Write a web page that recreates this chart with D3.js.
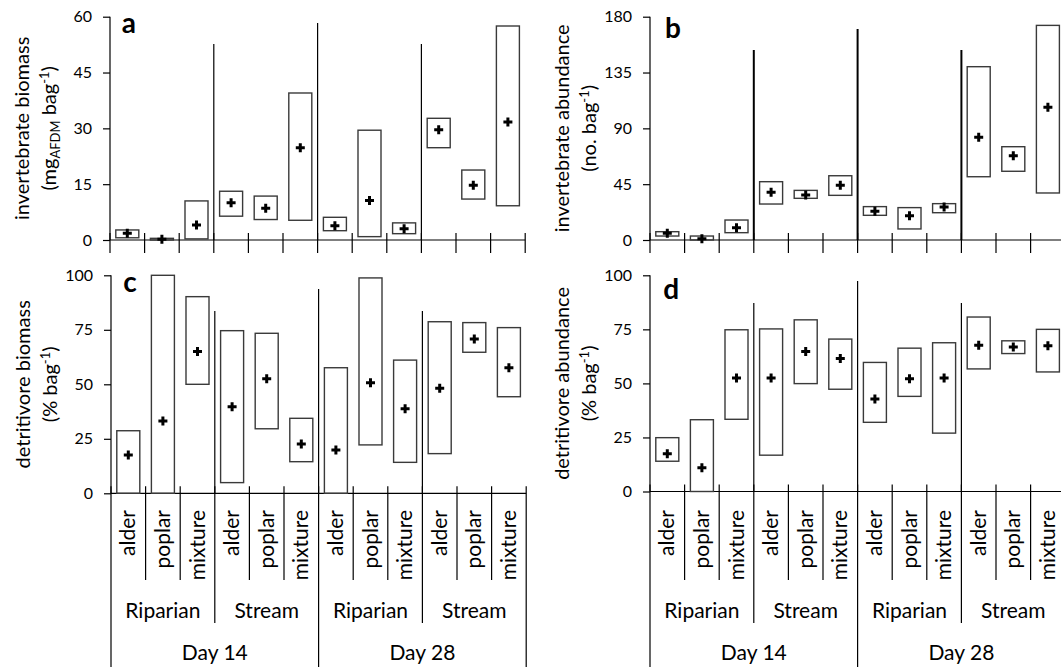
<!DOCTYPE html>
<html lang="en">
<head>
<meta charset="UTF-8"/>
<title>Leaf bag invertebrates</title>
<script src="https://d3js.org/d3.v7.min.js"></script>
<style>
  body { margin: 0; background: #fff; }
  svg { display: block; font-family: Lato, "Open Sans", sans-serif; }
</style>
</head>
<body>
<svg id="chart"></svg>
<script>
// treatments are plotted day > site > leaf type
var leaves = ["alder", "poplar", "mixture"];
var sites = ["Riparian", "Stream"];
var days = ["Day 14", "Day 28"];

// a: invertebrate biomass (mg AFDM per bag)
var biomassLow  = [0.6, 0, 0.3, 6.4, 5.5, 5.3, 2.5, 0.9, 1.7, 24.8, 11.0, 9.2];
var biomassHigh = [2.7, 0.45, 10.5, 13.1, 11.8, 39.5, 6.1, 29.5, 4.6, 32.7, 18.8, 57.5];
var biomassMean = [1.8, 0.2, 4.0, 10.0, 8.5, 24.8, 3.8, 10.6, 3.0, 29.6, 14.7, 31.7];
var biomassTicks = [0, 15, 30, 45, 60];

// b: invertebrate abundance (no. per bag)
var abundLow  = [3.2, 0, 5.9, 29, 33.6, 36.0, 19.9, 8.9, 22.0, 51.0, 55.4, 37.9];
var abundHigh = [6.7, 3.2, 16.1, 47, 40, 51.8, 26.9, 26.1, 29.3, 139.7, 75.2, 173];
var abundMean = [5.4, 1.1, 9.9, 38.4, 36.3, 44.1, 23.1, 19.6, 26.6, 82.8, 67.9, 107];
var abundTicks = [0, 45, 90, 135, 180];

// c: detritivore biomass (% per bag)
var detBiomassLow  = [0, 0, 50.0, 4.9, 29.6, 14.5, 0, 22.2, 14.2, 18.2, 64.7, 44.3];
var detBiomassHigh = [28.7, 100, 90.2, 74.6, 73.4, 34.4, 57.6, 98.8, 61.1, 78.7, 78.3, 76.0];
var detBiomassMean = [17.6, 33.2, 65.0, 39.7, 52.6, 22.6, 19.9, 50.7, 38.8, 48.2, 70.8, 57.6];

// d: detritivore abundance (% per bag)
var detAbundLow  = [14.0, 0, 33.4, 16.8, 49.9, 47.3, 32.0, 44.0, 27.0, 56.7, 63.8, 55.3];
var detAbundHigh = [24.9, 33.2, 74.8, 75.2, 79.4, 70.5, 59.7, 66.3, 68.8, 80.7, 69.7, 75.0];
var detAbundMean = [17.5, 11.0, 52.5, 52.5, 64.8, 61.5, 42.8, 52.1, 52.5, 67.7, 66.8, 67.4];
var percentTicks = [0, 25, 50, 75, 100];

var treatments = d3.cross(days, sites, leaves);

var width = 1061, height = 667;
var svg = d3.select("#chart").attr("width", width).attr("height", height);

var catWidth = 34.6;

var panels = [
  { name: "a", x0: 110, top: 16.7, base: 240, divTop: [44, 23], lab: [121.7, 33.3], divW: 1.2,
    low: biomassLow, high: biomassHigh, mean: biomassMean, ticks: biomassTicks, bottom: false,
    title: ["invertebrate biomass", [["(mg", 0, 20], ["AFDM", 4, 13], [" bag", -4, 20], ["-1", -7, 13], [")", 7, 20]]] },
  { name: "b", x0: 650, top: 16.7, base: 240, divTop: [50, 29], lab: [665, 38.3], divW: 2,
    low: abundLow, high: abundHigh, mean: abundMean, ticks: abundTicks, bottom: false,
    title: ["invertebrate abundance", [["(no. bag", 0, 20], ["-1", -7, 13], [")", 7, 20]]] },
  { name: "c", x0: 111, top: 275.3, base: 493.3, divTop: [311, 289], lab: [123.3, 291.7], divW: 1.2,
    low: detBiomassLow, high: detBiomassHigh, mean: detBiomassMean, ticks: percentTicks, bottom: true,
    title: ["detritivore biomass", [["(% bag", 0, 20], ["-1", -7, 13], [")", 7, 20]]] },
  { name: "d", x0: 650, top: 275.3, base: 491.5, divTop: [303, 281], lab: [663.3, 299.3], divW: 1.2,
    low: detAbundLow, high: detAbundHigh, mean: detAbundMean, ticks: percentTicks, bottom: true,
    title: ["detritivore abundance", [["(% bag", 0, 20], ["-1", -7, 13], [")", 7, 20]]] }
];

panels.forEach(drawPanel);

function drawPanel(p) {
  var g = svg.append("g");
  var n = treatments.length;

  var x = d3.scaleBand()
    .domain(d3.range(n))
    .range([p.x0, p.x0 + n * catWidth]);

  var y = d3.scaleLinear()
    .domain([0, d3.max(p.ticks)])
    .range([p.base, p.top]);

  // y axis
  var yAxis = g.append("g")
    .attr("transform", "translate(" + p.x0 + ",0)")
    .call(d3.axisLeft(y).tickValues(p.ticks).tickSize(7).tickSizeOuter(0).tickPadding(11));
  yAxis.select(".domain").remove();
  yAxis.selectAll(".tick line").attr("stroke", "#000").attr("stroke-width", 1.2);
  yAxis.selectAll(".tick text")
    .attr("fill", "#000")
    .style("font-size", "16px")
    .style("font-family", "Lato, sans-serif");

  g.append("line")
    .attr("x1", p.x0).attr("x2", p.x0)
    .attr("y1", p.top).attr("y2", p.base)
    .attr("stroke", "#000").attr("stroke-width", 1.2);

  // x axis line
  var xEnd = p.x0 + n * catWidth;
  g.append("line")
    .attr("x1", p.x0).attr("x2", xEnd)
    .attr("y1", p.base).attr("y2", p.base)
    .attr("stroke", "#000").attr("stroke-width", 1.2);

  // category boundaries below the axis
  d3.range(n + 1).forEach(function(i) {
    var bx = i < n ? x(i) : xEnd;
    var y2;
    if (!p.bottom) y2 = p.base + 13;
    else if (i % 6 === 0) y2 = height;
    else if (i % 3 === 0) y2 = 623;
    else y2 = 580;
    g.append("line")
      .attr("x1", bx).attr("x2", bx)
      .attr("y1", p.base - 7).attr("y2", y2)
      .attr("stroke", "#000").attr("stroke-width", 1.2);
  });

  // dividers between site groups and days inside the plot
  [3, 6, 9].forEach(function(i) {
    g.append("line")
      .attr("x1", x(i)).attr("x2", x(i))
      .attr("y1", i === 6 ? p.divTop[1] : p.divTop[0]).attr("y2", p.base)
      .attr("stroke", "#000").attr("stroke-width", p.divW);
  });

  // range boxes
  var boxW = x.bandwidth() * 0.665;
  g.selectAll("rect.box")
    .data(d3.range(n))
    .enter()
    .append("rect")
    .attr("class", "box")
    .attr("x", function(i) { return x(i) + (x.bandwidth() - boxW) / 2; })
    .attr("y", function(i) { return y(p.high[i]); })
    .attr("width", boxW)
    .attr("height", function(i) { return y(p.low[i]) - y(p.high[i]); })
    .attr("fill", "none")
    .attr("stroke", "#3a3a3a")
    .attr("stroke-width", 1.4);

  // mean markers (+)
  var arm = 4.5;
  g.selectAll("path.mean")
    .data(d3.range(n))
    .enter()
    .append("path")
    .attr("class", "mean")
    .attr("d", function(i) {
      var cx = x(i) + x.bandwidth() / 2, cy = y(p.mean[i]);
      return "M" + (cx - arm) + "," + cy + "H" + (cx + arm) +
             "M" + cx + "," + (cy - arm) + "V" + (cy + arm);
    })
    .attr("stroke", "#000")
    .attr("stroke-width", 3);

  // panel letter
  g.append("text")
    .attr("x", p.lab[0]).attr("y", p.lab[1])
    .style("font-size", "28px")
    .style("font-weight", "bold")
    .text(p.name);

  // y axis title
  var mid = (p.top + p.base) / 2;
  g.append("text")
    .attr("transform", "translate(" + (p.x0 - 81) + "," + mid + ") rotate(-90)")
    .attr("text-anchor", "middle")
    .style("font-size", "20px")
    .text(p.title[0]);

  var t2 = g.append("text")
    .attr("transform", "translate(" + (p.x0 - 54) + "," + mid + ") rotate(-90)")
    .attr("text-anchor", "middle")
    .style("font-size", "20px");
  p.title[1].forEach(function(part) {
    t2.append("tspan").attr("dy", part[1]).style("font-size", part[2] + "px").text(part[0]);
  });

  if (!p.bottom) return;

  // leaf type labels
  g.selectAll("text.leaf")
    .data(d3.range(n))
    .enter()
    .append("text")
    .attr("class", "leaf")
    .attr("transform", function(i) {
      return "translate(" + (x(i) + x.bandwidth() / 2 + 7) + ",510) rotate(-90)";
    })
    .attr("text-anchor", "end")
    .style("font-size", "21px")
    .text(function(i) { return treatments[i][2]; });

  // site labels
  d3.range(n / 3).forEach(function(k) {
    g.append("text")
      .attr("x", x(k * 3) + catWidth * 1.5)
      .attr("y", 618)
      .attr("text-anchor", "middle")
      .style("font-size", "21px")
      .text(treatments[k * 3][1]);
  });

  // day labels
  d3.range(n / 6).forEach(function(k) {
    g.append("text")
      .attr("x", x(k * 6) + catWidth * 3)
      .attr("y", 660)
      .attr("text-anchor", "middle")
      .style("font-size", "21px")
      .text(treatments[k * 6][0]);
  });
}
</script>
</body>
</html>
